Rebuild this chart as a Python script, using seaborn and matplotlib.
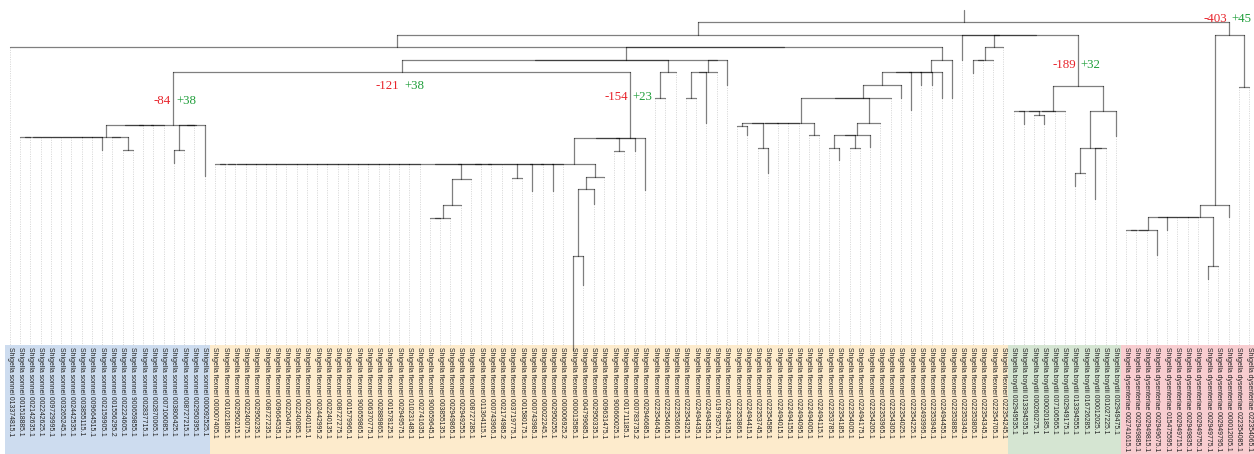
import matplotlib
matplotlib.use("Agg")
import matplotlib.pyplot as plt
from matplotlib.patches import Rectangle
from matplotlib.transforms import offset_copy
import pandas as pd
import seaborn as sns

# ---------------------------------------------------------------
# Tip labels, left to right (assembly accession numbers)
# ---------------------------------------------------------------
sonnei = ["013374815.1", "001518885.1", "002142635.1", "002242625.1", "009729995.1",
          "003265245.1", "002442535.1", "003855115.1", "009664515.1", "002159905.1",
          "001556295.2", "002224605.1", "900659855.1", "002837715.1", "002870065.1",
          "007106085.1", "003806425.1", "008727215.1", "002950395.1", "000092525.1"]

flexneri = ["000007405.1", "001021805.1", "002950215.1", "002240075.1",
            "002950235.1", "008727235.1", "009664535.1", "002204675.1", "002240085.1",
            "002240115.1", "002442995.2", "002240135.1", "008727275.1", "001579965.1",
            "900659865.1", "006370775.1", "002889865.1",
            "001578125.1", "002949575.1", "010231485.1", "002741635.1", "900659645.1",
            "003855135.1", "002949865.1", "002949255.1", "008727285.1", "011364115.1",
            "000743965.1", "002174985.2",
            "003719775.1", "001580175.1", "000743985.1", "000022245.1", "002950255.1",
            "000006925.2", "000013585.1", "004799685.1", "002950335.1", "009631475.1",
            "900660025.1", "001711185.1",
            "000783735.2", "002946685.1", "022354645.1", "022354665.1", "022353665.1",
            "022354325.1", "022494435.1", "022494355.1", "019793575.1", "022494135.1",
            "022353865.1", "022494415.1",
            "022353745.1", "022354585.1", "022494015.1", "022494155.1", "022494095.1",
            "022494005.1", "022494115.1", "022353785.1", "022354185.1", "022354005.1",
            "022494175.1", "022354205.1",
            "022353965.1", "022354305.1", "022354025.1", "022354225.1", "022493995.1",
            "022353945.1", "022494455.1", "022353885.1", "022353345.1", "022353805.1",
            "022354345.1", "022354705.1", "022354245.1"]

boydii = ["002949535.1", "013394535.1", "000260275.1", "000020185.1", "007106565.1",
          "002949175.1", "013394555.1", "016726285.1", "000012025.1", "001027225.1",
          "002949475.1"]

dysenteriae = ["002741615.1", "002949885.1", "002949815.1", "002949675.1", "015475595.1",
               "002949715.1", "002949835.1", "002949755.1", "002949775.1", "002949795.1",
               "000012005.1", "022354085.1", "022354065.1"]

species = ["sonnei", "flexneri", "boydii", "dysenteriae"]
species_ids = [sonnei, flexneri, boydii, dysenteriae]

# ---------------------------------------------------------------
# Tree.  Leaves are tip indices in the order above; the number after
# ':' is the depth of that node below the root.  A node without a
# depth sits at its parent's depth (zero-length branch).  Polytomies
# are resolved left to right: (a,b,c) == ((a,b),c).
# ---------------------------------------------------------------
clade_sonnei = ("(((1,2,3,4,5,6,7,8,9:128,(10,(11,12):128)):115,13,14,15),"
                "((16:141,17):128,18,19:154))S:103")
clade_flex_i = ("((20,21,22,23,24,25,26,27,28,29,30,31,32,33,34,35,36,37,38,39,40,"
                "(((41,42,43):196,44):183,45):157,46,47,48,(49,50):156,51:169,52,"
                "53:169,54,(((55:328,56:263):234,57:182):167,58):155):142,"
                "(59,60):129,61:129,62:168)I:116")
clade_flex_g1 = "((63,64):76,65):50"
clade_flex_g2 = "((66,67):76,68:101,69):50"
clade_flex_k = ("((((((71,72:113):104,(73,74:151):126,75,76,77,(78,79):113):101,"
                "(((80,81:138):126,(82,83):126,84:125):113,85):101,86):76,87:76):63,"
                "88:88,89:63,90:63,91:76):50,92:76):38")
clade_flex_m = "((94:51,95,96):38,97):25"
clade_boydii = ("((98,99:102,(100,101:102):93,102,103):89,"
                "(((104:164,105):151,(106:177,107)):126,108:114):89)B:64")
clade_dys = ("((((109,110,111,112:233):208,113:208,114,115,116,(117:257,118):244):195,"
             "119:195):183,(120,121):65)DYS:13")

clade_g = f"({clade_sonnei},{clade_flex_i})G:50"
clade_e = f"(({clade_g},{clade_flex_g1}),({clade_flex_g2},70:63)):38"
clade_c = f"(0,({clade_e},{clade_flex_k})):25"
clade_z = f"(93:38,({clade_flex_m},{clade_boydii}))"
tree_newick = f"(({clade_c},{clade_z}):13,{clade_dys}):0;"

# gene losses / gains on the branch leading to a clade
gain_loss = {"S": (-84, 38), "G": (-121, 38), "I": (-154, 23),
             "B": (-189, 32), "DYS": (-403, 45)}


# ---------------------------------------------------------------
def parse_newick(text):
    pos = 0

    def read_node():
        nonlocal pos
        children = []
        if text[pos] == "(":
            pos += 1
            children.append(read_node())
            while text[pos] == ",":
                pos += 1
                children.append(read_node())
            pos += 1
        start = pos
        while text[pos] not in ":,);":
            pos += 1
        name = text[start:pos]
        depth = None
        if text[pos] == ":":
            pos += 1
            start = pos
            while text[pos] not in ",);":
                pos += 1
            depth = float(text[start:pos])
        return {"name": name, "depth": depth, "children": children}

    return read_node()


def resolve(node, parent_depth):
    if node["depth"] is None:
        node["depth"] = parent_depth
    for c in node["children"]:
        resolve(c, node["depth"])
    kids = node["children"]
    while len(kids) > 2:
        kids = [{"name": "", "depth": node["depth"], "children": kids[:2]}] + kids[2:]
    node["children"] = kids


def place(node):
    if not node["children"]:
        node["x"] = float(node["name"])
    else:
        for c in node["children"]:
            place(c)
        node["x"] = (node["children"][0]["x"] + node["children"][-1]["x"]) / 2


root = parse_newick(tree_newick)
resolve(root, 0.0)
place(root)

seg_rows, leaves, named = [], [], {}


def add_seg(x0, y0, x1, y1):
    k = len(seg_rows) // 2
    seg_rows.append((k, x0, y0))
    seg_rows.append((k, x1, y1))


def collect(node):
    if node["name"] in gain_loss:
        named[node["name"]] = node
    if node["children"]:
        a, b = node["children"]
        add_seg(a["x"], node["depth"], b["x"], node["depth"])
        for c in node["children"]:
            if c["depth"] > node["depth"]:
                add_seg(c["x"], node["depth"], c["x"], c["depth"])
            collect(c)
    else:
        leaves.append(node)


collect(root)
add_seg(root["x"], -12.3, root["x"], 0.0)   # root edge
seg_df = pd.DataFrame(seg_rows, columns=["seg", "x", "y"])

label_top = 325.0
box_top = 322.7
dot_rows = []
for lf in leaves:
    if lf["depth"] < box_top:
        dot_rows.append((int(lf["name"]), lf["x"], lf["depth"]))
        dot_rows.append((int(lf["name"]), lf["x"], box_top))
dot_df = pd.DataFrame(dot_rows, columns=["seg", "x", "y"])

# ---------------------------------------------------------------
sns.set_theme(style="white")
plt.rcParams["font.family"] = ["Liberation Sans", "DejaVu Sans"]

fig = plt.figure(figsize=(12.54, 4.54), dpi=100)
ax = fig.add_axes([0, 0, 1, 1])

fills = {"sonnei": "#cddcef", "flexneri": "#fdebcc",
         "boydii": "#d5e5d2", "dysenteriae": "#f8cdd0"}
start = 0
for sp, ids in zip(species, species_ids):
    ax.add_patch(Rectangle((start - 0.5, box_top), len(ids), 500,
                           facecolor=fills[sp], edgecolor="none", zorder=0))
    for j, acc in enumerate(ids):
        ax.text(start + j, label_top, f"Shigella {sp} {acc}", rotation=270,
                ha="center", va="top", fontsize=4.95, color="#222222", zorder=3)
    start += len(ids)

sns.lineplot(data=dot_df, x="x", y="y", units="seg", estimator=None, sort=False,
             color="#cfcfcf", lw=0.6, linestyle=(0, (1.2, 1.6)), ax=ax,
             legend=False, zorder=1)
sns.lineplot(data=seg_df, x="x", y="y", units="seg", estimator=None, sort=False,
             color="black", alpha=0.5, lw=0.9, ax=ax, legend=False, zorder=2)

# gain / loss annotations
label_depth = {"S": 78.7, "G": 63.7, "I": 74.7, "B": 42.7, "DYS": -3.3}
serif = ["Liberation Serif", "DejaVu Serif"]
left_tr = offset_copy(ax.transData, fig=fig, x=-2.5, y=0, units="dots")
right_tr = offset_copy(ax.transData, fig=fig, x=2.5, y=0, units="dots")
for name, (loss, gain) in gain_loss.items():
    node = named[name]
    y = label_depth[name]
    ax.text(node["x"], y, f"{loss}", transform=left_tr, ha="right", va="center",
            color="#e8232b", fontsize=9.3, family=serif, zorder=4)
    ax.text(node["x"], y, f"+{gain}", transform=right_tr, ha="left", va="center",
            color="#1f9e3a", fontsize=9.3, family=serif, zorder=4)

ax.set_xlim(-0.977, 121.48)
ax.set_ylim(431.7, -22.3)
ax.set_axis_off()

fig.savefig("out.png", dpi=100)
